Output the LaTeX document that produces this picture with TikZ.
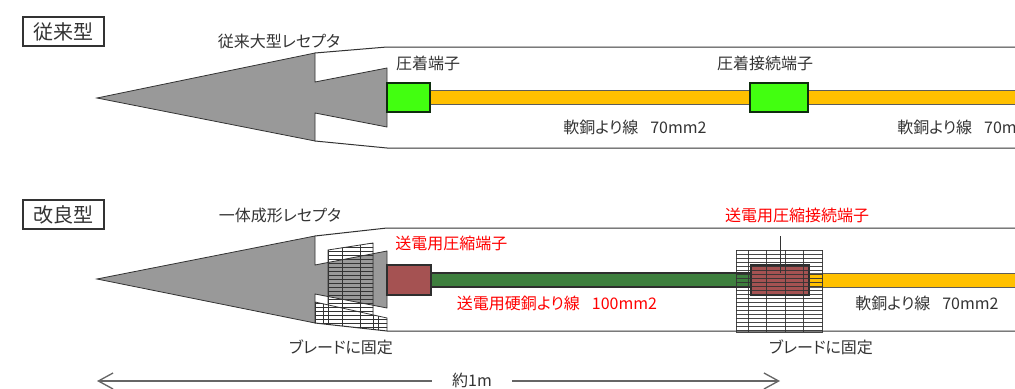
\documentclass[tikz,border=0pt]{standalone}
\usepackage{fontspec}
\setmainfont{Noto Sans CJK JP}[RawFeature={+palt}]
\usetikzlibrary{arrows.meta}
\definecolor{ink}{HTML}{333333}
\definecolor{recgray}{HTML}{999999}
\definecolor{crimpgreen}{HTML}{42FF10}
\definecolor{softcu}{HTML}{FFC000}
\definecolor{hardcu}{HTML}{3E7F3E}
\definecolor{comprbrown}{HTML}{A55252}
\definecolor{redtext}{HTML}{FF0000}
\tikzset{
  lbl/.style={inner sep=0pt, text=ink, font=\fontsize{12}{14}\selectfont},
  redlbl/.style={lbl, text=redtext},
  typebox/.style={draw=ink, line width=0.8pt, inner sep=0pt, text=ink,
    minimum width=60.75pt, minimum height=21.75pt, font=\fontsize{15}{18}\selectfont},
  recep/.style={fill=recgray, draw=ink, line width=0.6pt, line join=miter},
  tube/.style={draw=ink, line width=0.75pt},
  softwire/.style={fill=softcu, draw=ink!80, line width=0.6pt},
  hardwire/.style={fill=hardcu, draw=ink!90!black, line width=1.5pt},
  crimp/.style={fill=crimpgreen, draw=ink!70!green!40!black, line width=0.8pt},
  compr/.style={fill=comprbrown, draw=ink!90!black, line width=1.8pt},
  gridline/.style={draw=black!80, line width=0.6pt},
  dimline/.style={draw=black!60, line width=1pt}
}
\begin{document}
\begin{tikzpicture}[x=0.75pt, y=-0.75pt]
\useasboundingbox (0,0) rectangle (1015,389);
\begin{scope}
\clip (0,0) rectangle (1015,389);

% ---------- conventional type ----------
\node[typebox] (oldtype) at (63.5,31.5) {従来型};

\filldraw[recep] (97,98) -- (315,53) -- (315,82) -- (387,68) -- (387,127)
  -- (315,113) -- (315,141) -- cycle;
\draw[tube] (315,53) -- (387,47) -- (1020,47);
\draw[tube] (315,141) -- (387,148) -- (1020,148);

\filldraw[softwire] (426,90) rectangle (1020,104);
\filldraw[crimp] (387,83) rectangle (430,112);
\filldraw[crimp] (750,83) rectangle (808,112);

\node[lbl] (oldrecep) at (279,41) {従来大型レセプタ};
\node[lbl] (oldterm) at (428,63) {圧着端子};
\node[lbl] (oldjoint) at (765,63) {圧着接続端子};
\node[lbl] (oldwireA) at (635,127) {軟銅より線\hspace{9pt}70mm2};
\node[lbl, anchor=west] (oldwireB) at (897,127) {軟銅より線\hspace{9pt}70mm2};

% ---------- improved type ----------
\node[typebox] (newtype) at (63.5,214.5) {改良型};

\filldraw[recep] (97,279) -- (315,236) -- (315,265) -- (387,251) -- (387,308)
  -- (315,294) -- (315,323) -- cycle;
\draw[tube] (315,236) -- (387,228) -- (1020,228);
\draw[tube] (315,323) -- (387,331) -- (1020,331);

% blade holding the receptacle
\begin{scope}
  \clip (328,250) -- (373,243) -- (373,315) -- (387,318) -- (387,331)
    -- (315,323) -- (315,302) -- (328,305) -- cycle;
  \foreach \y in {243,247,...,335} \draw[gridline] (300,\y) -- (400,\y);
  \foreach \x in {323,328,342,360,373,378} \draw[gridline] (\x,240) -- (\x,335);
\end{scope}
\draw[gridline] (328,305) -- (328,250) -- (373,243) -- (373,315);
\draw[gridline] (315,302) -- (387,318) -- (387,331);
\draw[gridline] (315,302) -- (315,323);

% conductors and compression terminals
\filldraw[hardwire] (430,273) rectangle (752,287);
\filldraw[softwire] (808,273) rectangle (1020,287);
\filldraw[compr] (387,265) rectangle (431,295);
\filldraw[compr] (751,265) rectangle (809,295);

% blade holding the joint
\begin{scope}[opacity=0.9]
  \foreach \y in {250,254,...,330} \draw[gridline] (736,\y) -- (823,\y);
  \draw[gridline] (736,332) -- (823,332);
  \foreach \x in {736,748,766,785,803,822} \draw[gridline] (\x,250) -- (\x,332);
\end{scope}

\node[lbl] (newrecep) at (280,215) {一体成形レセプタ};
\node[redlbl, anchor=west] (newterm) at (395,243) {送電用圧縮端子};
\node[redlbl] (newjoint) at (797,215) {送電用圧縮接続端子};
\coordinate (leadtop) at (780,236);
\coordinate (leadend) at (780,273);
\draw[ink, line width=0.6pt] (leadtop) -- (leadend);
\node[redlbl] (hardlbl) at (557,303) {送電用硬銅より線\hspace{9pt}100mm2};
\node[lbl] (softlbl) at (927,303) {軟銅より線\hspace{9pt}70mm2};
\node[lbl] (bladeA) at (341,347) {ブレードに固定};
\node[lbl] (bladeB) at (821,347) {ブレードに固定};

% overall length
\coordinate (lenL) at (97,381);
\coordinate (lenR) at (780,381);
\node[lbl, inner xsep=15pt] (len) at (472,380) {約1m};
\draw[dimline, -{Straight Barb[length=11pt, width=12pt]}] (len.west |- lenL) -- (lenL);
\draw[dimline, -{Straight Barb[length=11pt, width=12pt]}] (len.east |- lenR) -- (lenR);
\end{scope}
\end{tikzpicture}
\end{document}
